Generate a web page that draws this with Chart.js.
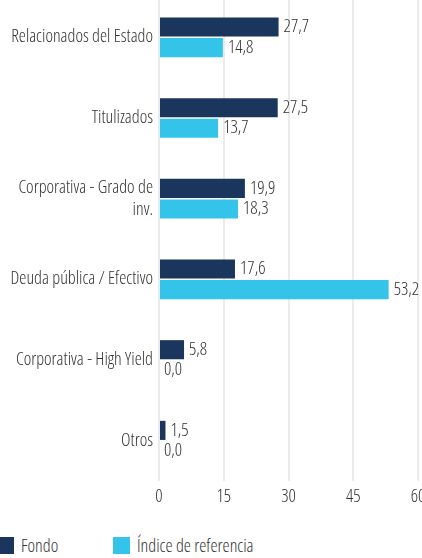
<!DOCTYPE html>
<html>
<head>
<meta charset="utf-8">
<script src="https://cdn.jsdelivr.net/npm/chart.js@4.4.1/dist/chart.umd.min.js"></script>
<style>
  body { margin: 0; width: 422px; height: 558px; overflow: hidden; background: #fff;
         font-family: 'Open Sans', sans-serif; font-stretch: condensed; font-weight: 300; }
  #wrap { position: absolute; left: 0; top: -3px; width: 422px; height: 514px; }
  .item { position: absolute; top: 533px; display: flex; align-items: center;
          font-size: 18px; color: #333; white-space: nowrap; }
  .item span.box { display: inline-block; width: 17px; height: 17px; margin-right: 7px; }
</style>
</head>
<body>
<div id="wrap"><canvas id="graph"></canvas></div>
<div id="legend"></div>
<script>
const FONT = "'Open Sans', sans-serif";

const categories = [
  'Relacionados del Estado',
  'Titulizados',
  ['Corporativa - Grado de', 'inv.'],
  'Deuda pública / Efectivo',
  'Corporativa - High Yield',
  'Otros'
];
const fondo = [27.7, 27.5, 19.9, 17.6, 5.8, 1.5];
const indice = [14.8, 13.7, 18.3, 53.2, 0.0, 0.0];
const seriesNames = ['Fondo', 'Índice de referencia'];
const colors = ['#1b365d', '#35c4e9'];
const xTicks = [0, 15, 30, 45, 60];

// light condensed face goes through the weight slot of Chart.js' font string
const textFont = { family: FONT, size: 18, weight: '300 condensed', lineHeight: 1.2 };

// values written right after each bar, with comma decimals
const valueLabels = {
  id: 'valueLabels',
  afterDatasetsDraw(chart) {
    const ctx = chart.ctx;
    ctx.save();
    ctx.font = '300 condensed 18px ' + FONT;
    ctx.fillStyle = '#333';
    ctx.textBaseline = 'middle';
    chart.data.datasets.forEach((ds, i) => {
      chart.getDatasetMeta(i).data.forEach((bar, j) => {
        ctx.fillText(ds.data[j].toFixed(1).replace('.', ','), bar.x + 5, bar.y);
      });
    });
    ctx.restore();
  }
};

const data = {
  labels: categories,
  datasets: [
    { label: seriesNames[0], data: fondo, backgroundColor: colors[0] },
    { label: seriesNames[1], data: indice, backgroundColor: colors[1] }
  ]
};

const config = {
  type: 'bar',
  data: data,
  plugins: [valueLabels],
  options: {
    indexAxis: 'y',
    responsive: true,
    maintainAspectRatio: false,
    animation: false,
    datasets: { bar: { categoryPercentage: 0.51, barPercentage: 0.93 } },
    layout: { padding: { top: 0, left: 0, right: 4, bottom: 0 } },
    plugins: { legend: { display: false }, tooltip: { enabled: false } },
    scales: {
      x: {
        min: 0, max: 60,
        afterBuildTicks: s => { s.ticks = xTicks.map(v => ({ value: v })); },
        afterFit: s => { s.paddingLeft = 0; s.paddingRight = 0; s.height = 30; },
        grid: { color: '#ebebeb', lineWidth: 2, drawTicks: false },
        border: { display: false },
        ticks: { padding: 5, color: '#333', font: textFont }
      },
      y: {
        grid: { display: false, drawTicks: false },
        border: { display: false },
        afterFit: s => { s.width = 159; s.paddingTop = 0; s.paddingBottom = 0; },
        ticks: { padding: 6, color: '#333', font: textFont }
      }
    }
  }
};

const graph = document.querySelector('#graph');
new Chart(graph, config);

const legendLeft = [-3, 113];
document.getElementById('legend').innerHTML = seriesNames.map((n, i) =>
  '<div class="item" style="left:' + legendLeft[i] + 'px"><span class="box" style="background:' +
  colors[i] + '"></span>' + n + '</div>'
).join('');
</script>
</body>
</html>
